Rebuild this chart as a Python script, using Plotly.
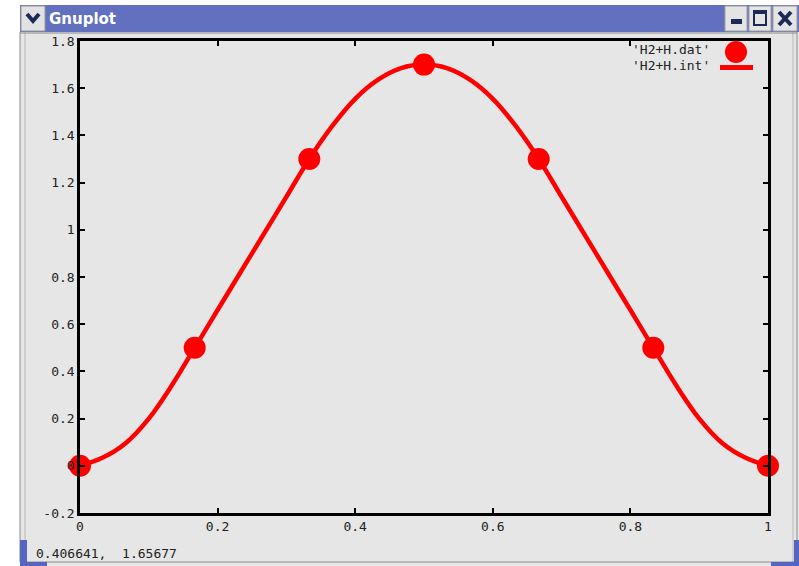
import plotly.graph_objects as go

# ---- data ----
# 'H2+H.dat' points
dat_x = [0.0, 0.1667, 0.3333, 0.5, 0.6667, 0.8333, 1.0]
dat_y = [0.0, 0.5, 1.3, 1.7, 1.3, 0.5, 0.0]
# 'H2+H.int' curve, values
int_x = [0.0, 0.0333, 0.0667, 0.1, 0.1333, 0.1667, 0.2, 0.2333, 0.2667, 0.3, 0.3333, 0.3667, 0.4, 0.4333,
         0.4667, 0.5, 0.5333, 0.5667, 0.6, 0.6333, 0.6667, 0.7, 0.7333, 0.7667, 0.8, 0.8333, 0.8667, 0.9,
         0.9333, 0.9667, 1.0]
int_y = [0.0, 0.035, 0.097, 0.2, 0.34, 0.5, 0.66, 0.82, 0.98, 1.14, 1.3, 1.44, 1.555, 1.636,
         1.685, 1.7, 1.685, 1.636, 1.555, 1.44, 1.3, 1.14, 0.98, 0.82, 0.66, 0.5, 0.34, 0.2,
         0.097, 0.035, 0.0]
x_ticks = [0, 0.2, 0.4, 0.6, 0.8, 1]
x_tick_labels = ["0", "0.2", "0.4", "0.6", "0.8", "1"]
y_ticks = [-0.2, 0, 0.2, 0.4, 0.6, 0.8, 1, 1.2, 1.4, 1.6, 1.8]
y_tick_labels = ["-0.2", "0", "0.2", "0.4", "0.6", "0.8", "1", "1.2", "1.4", "1.6", "1.8"]
legend_labels = ["'H2+H.dat'", "'H2+H.int'"]
status_text = "0.406641,  1.65677"

W, H = 799, 566
L, R, T, B = 80, 768, 41, 513
FONT = "DejaVu Sans Mono"
RED = "#ff0000"
NAVY = "#1c2a5a"


def px(x):
    return (x - L) / (R - L)


def py(y):
    return (B - y) / (B - T)


fig = go.Figure()
fig.add_trace(go.Scatter(x=int_x, y=int_y, mode="lines", line=dict(color=RED, width=4.5, shape="spline", smoothing=1.0),
                         name=legend_labels[1], hoverinfo="skip", cliponaxis=False))
fig.add_trace(go.Scatter(x=dat_x, y=dat_y, mode="markers", marker=dict(color=RED, size=22, line=dict(width=0)),
                         name=legend_labels[0], cliponaxis=False))

shapes = []


def rect(x0, y0, x1, y1, fill, line=None, lw=0, layer="below"):
    shapes.append(dict(type="rect", xref="paper", yref="paper", x0=px(x0), x1=px(x1), y0=py(y1), y1=py(y0),
                       fillcolor=fill, line=dict(color=line or fill, width=lw), layer=layer))


def seg(x0, y0, x1, y1, color, lw, layer="above"):
    shapes.append(dict(type="line", xref="paper", yref="paper", x0=px(x0), x1=px(x1), y0=py(y0), y1=py(y1),
                       line=dict(color=color, width=lw), layer=layer))


# window body
rect(20, 5, 799, 566, "#e6e6e6")
# title bar
rect(20, 5, 799, 32, "#6171c0", layer="above")
# chevron box
rect(21, 6, 45, 31, "#e2e2e2", "#9a9a9a", 1, layer="above")
shapes.append(dict(type="path", xref="paper", yref="paper",
                   path=f"M {px(27)} {py(14)} L {px(33)} {py(21)} L {px(39)} {py(14)}",
                   line=dict(color=NAVY, width=4), layer="above"))
# buttons
for x0, x1 in [(725, 747), (749, 771), (773, 797)]:
    rect(x0, 6, x1, 31, "#e4e4e4", "#a0a0a0", 1, layer="above")
rect(731, 19, 742, 24, NAVY, layer="above")
rect(754, 11, 766, 25, "#e4e4e4", NAVY, 2, layer="above")
rect(754, 11, 766, 14, NAVY, layer="above")
seg(779, 12, 791, 25, NAVY, 4)
seg(791, 12, 779, 25, NAVY, 4)
# frame lines
seg(20, 32, 20, 562, "#8a8a8a", 1)
seg(25, 32, 25, 562, "#b8b8b8", 1)
seg(793, 32, 793, 562, "#b8b8b8", 1)
seg(797, 32, 797, 562, "#8a8a8a", 1)
seg(20, 562, 797, 562, "#8a8a8a", 1)
seg(20, 33, 797, 33, "#8a8a8a", 1)
# blue corners
rect(20, 540, 27, 566, "#5566c0", layer="above")
rect(20, 562, 47, 566, "#5566c0", layer="above")
rect(794, 540, 799, 566, "#5566c0", layer="above")
rect(771, 562, 799, 566, "#5566c0", layer="above")
# legend symbols
shapes.append(dict(type="circle", xref="paper", yref="paper", x0=px(725), x1=px(747), y0=py(63), y1=py(41),
                   fillcolor=RED, line=dict(color=RED, width=0), layer="above"))
seg(720, 67.5, 753, 67.5, RED, 5)

annotations = [
    dict(text="<b>Gnuplot</b>", xref="paper", yref="paper", x=px(47), y=py(18.5), xanchor="left", yanchor="middle",
         showarrow=False, font=dict(family="DejaVu Sans", size=15, color="white")),
    dict(text=status_text, xref="paper", yref="paper", x=px(34), y=py(553), xanchor="left", yanchor="middle",
         showarrow=False, font=dict(family=FONT, size=13, color="#222222")),
    dict(text=legend_labels[0], xref="paper", yref="paper", x=px(712), y=py(50), xanchor="right", yanchor="middle",
         showarrow=False, font=dict(family=FONT, size=13, color="#222222")),
    dict(text=legend_labels[1], xref="paper", yref="paper", x=px(712), y=py(66), xanchor="right", yanchor="middle",
         showarrow=False, font=dict(family=FONT, size=13, color="#222222")),
]

axis_common = dict(showgrid=False, zeroline=False, showline=True, linecolor="black", linewidth=2.5, mirror="ticks",
                   ticks="inside", ticklen=5, tickwidth=2, tickcolor="black",
                   tickfont=dict(family=FONT, size=13, color="#222222"))

fig.update_layout(
    width=W, height=H,
    margin=dict(l=L, r=W - R, t=T, b=H - B),
    paper_bgcolor="white", plot_bgcolor="#e6e6e6",
    showlegend=False,
    xaxis=dict(range=[0, 1], tickvals=x_ticks, ticktext=x_tick_labels, **axis_common),
    yaxis=dict(range=[-0.2, 1.8], tickvals=y_ticks, ticktext=y_tick_labels, **axis_common),
    shapes=shapes,
    annotations=annotations,
)

fig.write_html("out.html", config={"displayModeBar": False},
               post_script="document.body.style.margin='0';document.body.style.overflow='hidden';")
